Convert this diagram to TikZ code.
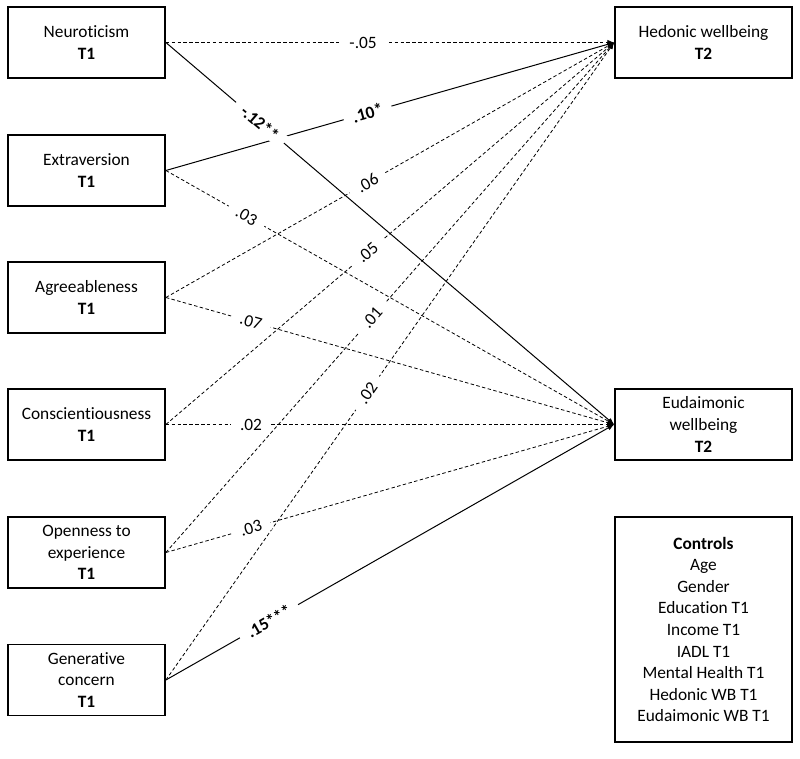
\documentclass[tikz,border=0pt]{standalone}
\usepackage{fontspec}
\setmainfont{Carlito}[Ligatures=NoCommon]
\usetikzlibrary{arrows.meta}
\pgfdeclarelayer{lines}
\pgfsetlayers{lines,main}

\begin{document}
\begin{tikzpicture}[
  x=0.75pt, y=-0.75pt,
  font=\fontsize{13}{16.2}\selectfont,
  box/.style={
    draw, line width=1.3pt, align=center,
    minimum width=117.75pt, minimum height=53.25pt
  },
  ns/.style={line width=0.6pt, dash pattern=on 2.6pt off 1.8pt},
  sig/.style={line width=0.75pt},
  lbl/.style={fill=white, sloped, inner xsep=7pt, inner ysep=1pt}
]
  \useasboundingbox (0,0) rectangle (800,759);
  \foreach \y/\n/\txt in {42.5/p1/Neuroticism,170.5/p2/Extraversion,
      297.5/p3/Agreeableness,424.5/p4/Conscientiousness,
      552.5/p5/{Openness to\\experience},680/p6/{Generative\\concern}} {
    \node[box] (\n) at (86.5,\y){\txt\\\textbf{T1}};
  }
  \node[box, minimum width=132.75pt] (hw) at (703.5,42.5){Hedonic wellbeing\\\textbf{T2}};
  \node[box, minimum width=132.75pt] (ew) at (703.5,424.5){Eudaimonic\\wellbeing\\\textbf{T2}};
  \node[box, minimum width=132.75pt, minimum height=168.75pt] (ctrl) at (703.5,629.5){%
    \textbf{Controls}\\Age\\Gender\\Education T1\\Income T1\\IADL T1\\Mental Health T1\\Hedonic WB T1\\Eudaimonic WB T1};
  \foreach \s/\t/\p/\l/\st in {
      p1/hw/.44/{-.05}/ns, p1/ew/.21/{\textbf{-.12**}}/sig,
      p2/hw/.45/{\textbf{.10*}}/sig, p2/ew/.18/{.03}/ns,
      p3/hw/.45/{.06}/ns, p3/ew/.19/{.07}/ns,
      p4/hw/.45/{.05}/ns, p4/ew/.19/{.02}/ns,
      p5/hw/.46/{.01}/ns, p5/ew/.19/{.03}/ns,
      p6/hw/.45/{.02}/ns, p6/ew/.23/{\textbf{.15***}}/sig} {
    \begin{pgfonlayer}{lines}
      \draw[\st, -{Latex[length=5pt,width=4pt]}] (\s.east)--(\t.west);
    \end{pgfonlayer}
    \path (\s.east)--(\t.west) node[lbl, pos=\p]{\l};
  }
\end{tikzpicture}
\end{document}
